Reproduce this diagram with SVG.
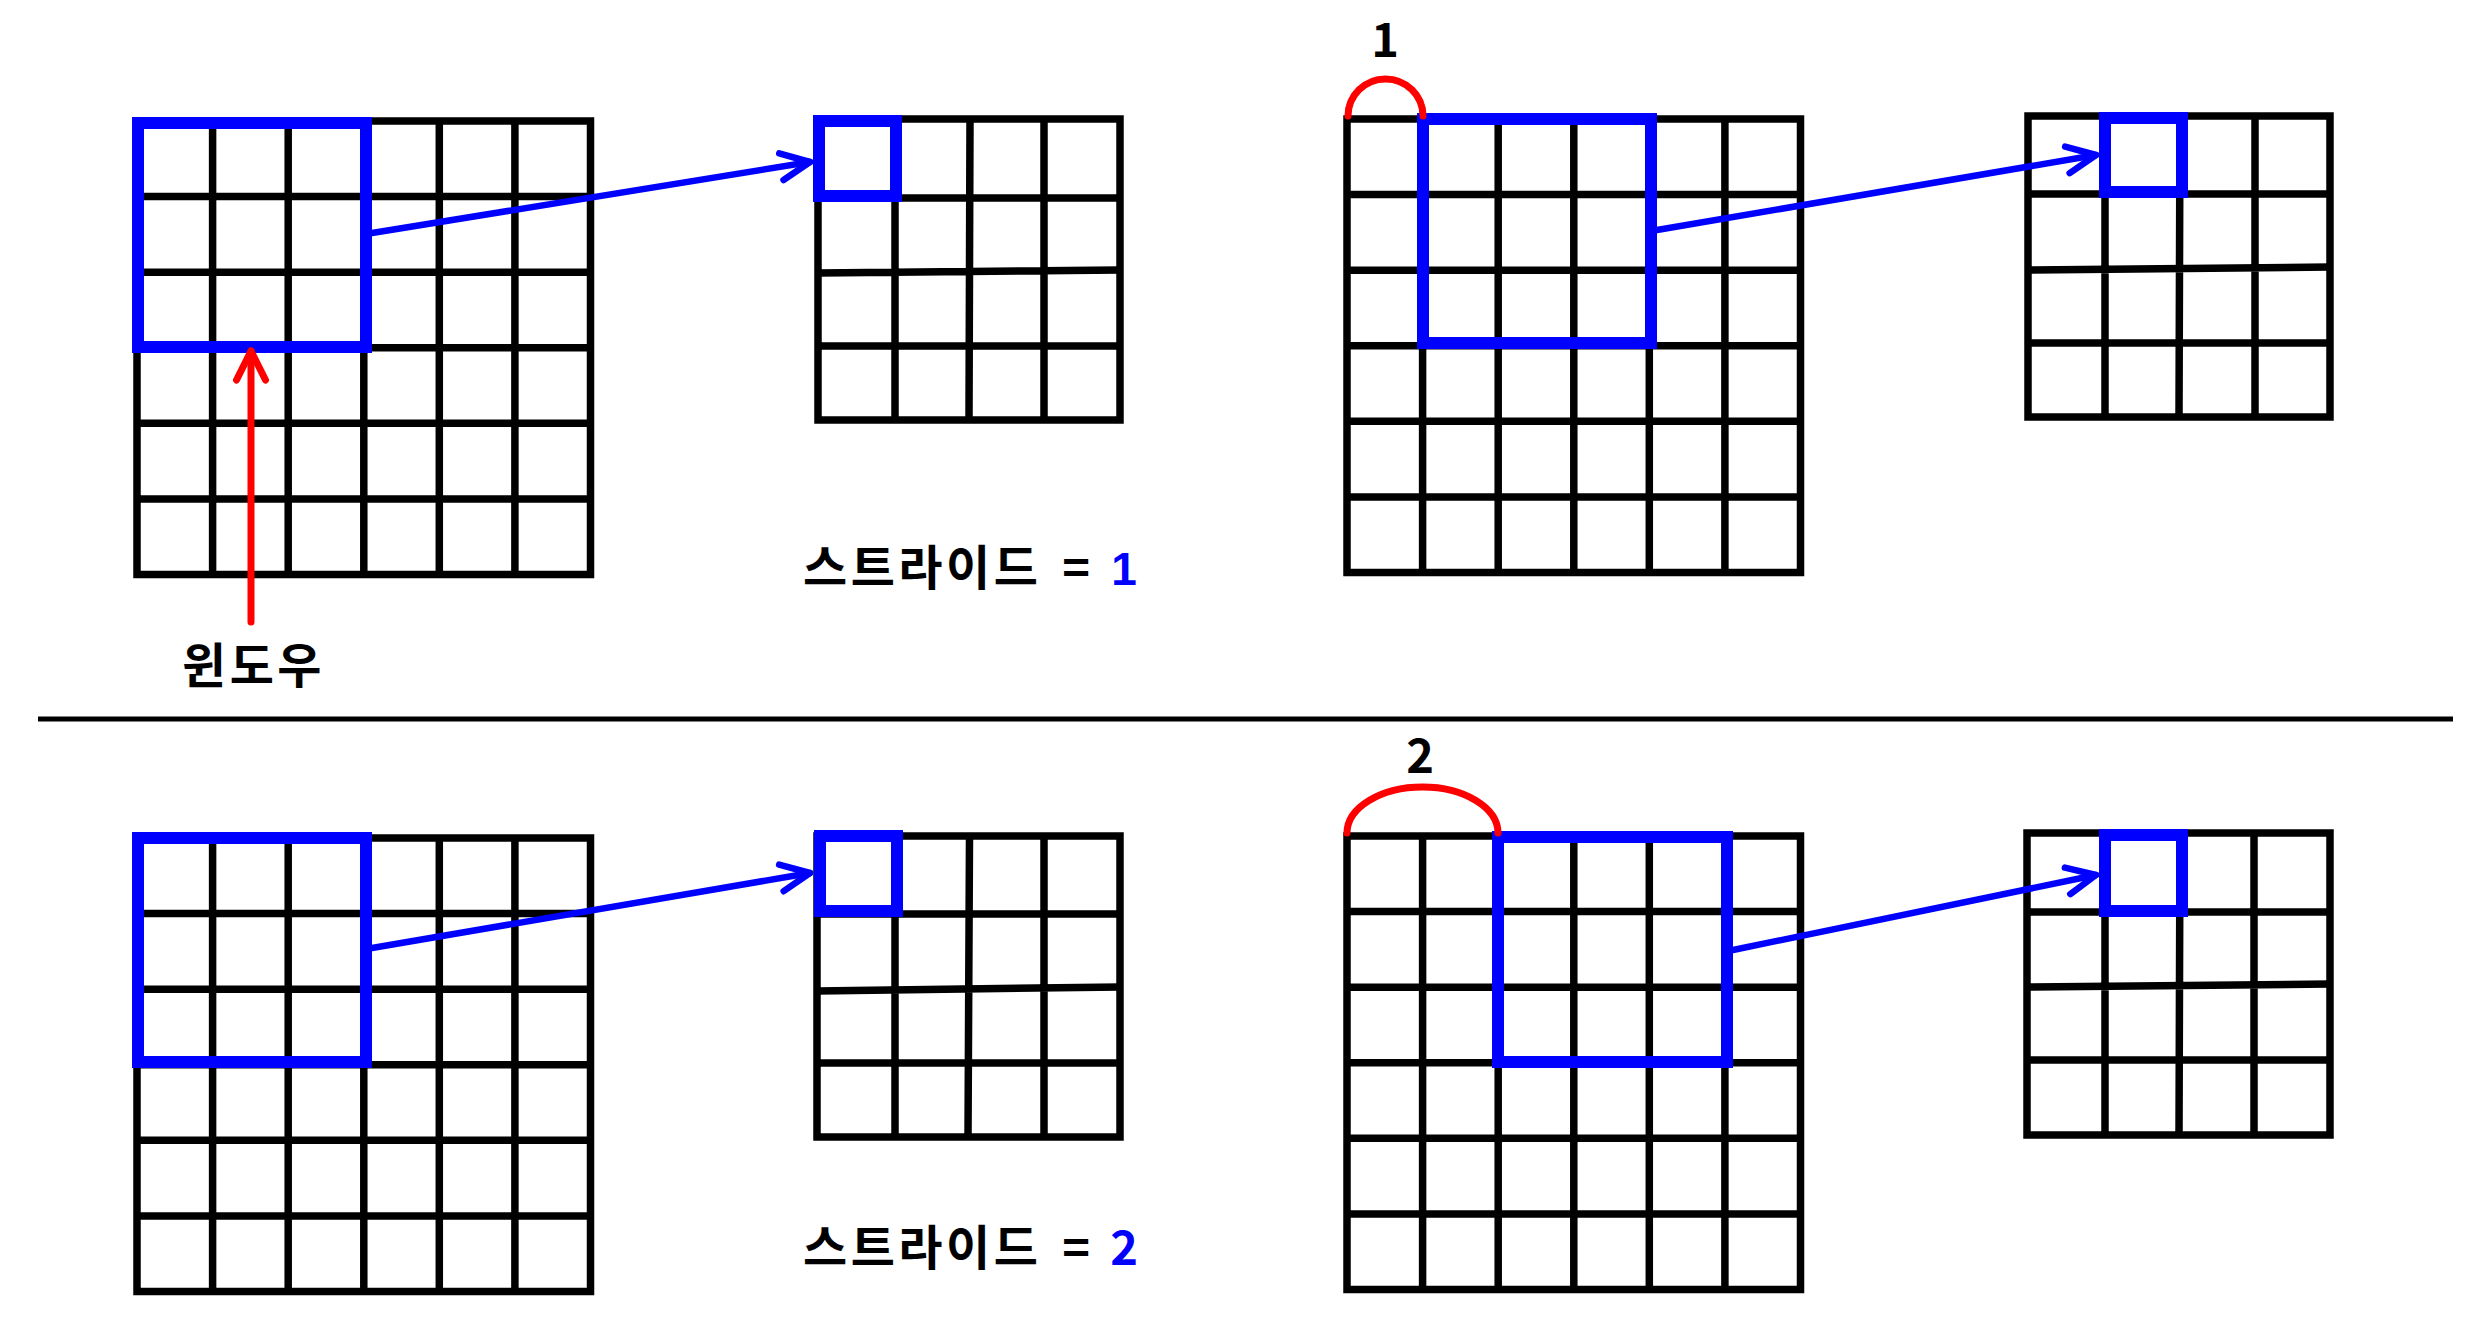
<svg xmlns="http://www.w3.org/2000/svg" xmlns:xlink="http://www.w3.org/1999/xlink" width="2466" height="1330" viewBox="0 0 2466 1330">
<style>
.grid{fill:none;stroke:#000;stroke-width:7.5}
.win{fill:none;stroke:#0000ff;stroke-width:12}
.conn{fill:none;stroke:#0000ff;stroke-width:6.5;stroke-linecap:round}
.red{fill:none;stroke:#ff0000;stroke-width:7;stroke-linecap:round}
.lbl{font-family:"Noto Sans CJK KR","Noto Sans",sans-serif;font-weight:bold;font-size:47px;fill:#000}
.kr{font-size:48px;letter-spacing:3.5px}
.num{font-family:"Liberation Sans","Noto Sans CJK KR",sans-serif;font-weight:bold;font-size:46px}
</style>
<defs>
<marker id="ab" markerUnits="userSpaceOnUse" viewBox="-40 -20 50 40" refX="0" refY="0" markerWidth="50" markerHeight="40" orient="auto" overflow="visible">
<path d="M-29 -13.5 L0 0 L-29 13.5" fill="none" stroke="#0000ff" stroke-width="6.5" stroke-linecap="round" stroke-linejoin="round"/>
</marker>
<marker id="ar" markerUnits="userSpaceOnUse" viewBox="-40 -20 50 40" refX="0" refY="0" markerWidth="50" markerHeight="40" orient="auto" overflow="visible">
<path d="M-29 -14.5 L0 0 L-29 14.5" fill="none" stroke="#ff0000" stroke-width="7" stroke-linecap="round" stroke-linejoin="round"/>
</marker>
<g id="g6">
<rect x="0" y="0" width="453.5" height="453.5"/>
<path d="M75.6 0V453.5M151.2 0V453.5M226.8 0V453.5M302.3 0V453.5M377.9 0V453.5M0 75.6H453.5M0 151.2H453.5M0 226.8H453.5M0 302.3H453.5M0 377.9H453.5"/>
</g>
</defs>
<rect width="2466" height="1330" fill="#fff"/>

<g id="input-s1">
<use xlink:href="#g6" class="grid" transform="translate(137,121)"/>
<rect class="win" x="138" y="123" width="228" height="224"/>
</g>
<g id="output-s1">
<rect class="grid" x="818" y="119" width="302" height="301"/>
<path class="grid" d="M895 119V420M970 119L969 420M1044 119V420M818 198H1120M818 273L1120 270M818 346H1120"/>
<rect class="win" x="819" y="121" width="77" height="75"/>
</g>
<g id="input-s1b">
<use xlink:href="#g6" class="grid" transform="translate(1347,119)"/>
<rect class="win" x="1423" y="119" width="228" height="224"/>
</g>
<g id="output-s1b">
<rect class="grid" x="2028" y="116" width="302" height="301"/>
<path class="grid" d="M2105 116V417M2180 116L2179 417M2255 116V417M2028 194H2330M2028 270L2330 267M2028 343H2330"/>
<rect class="win" x="2105" y="118" width="77" height="74"/>
</g>

<g id="input-s2">
<use xlink:href="#g6" class="grid" transform="translate(137,838)"/>
<rect class="win" x="138" y="838" width="228" height="224"/>
</g>
<g id="output-s2">
<rect class="grid" x="817" y="836" width="303" height="301"/>
<path class="grid" d="M895 836V1137M969.5 836L968 1137M1044 836V1137M817 914H1120M817 991L1120 987M817 1063H1120"/>
<rect class="win" x="820" y="836" width="77" height="75"/>
</g>
<g id="input-s2b">
<use xlink:href="#g6" class="grid" transform="translate(1347,836)"/>
<rect class="win" x="1498" y="837" width="229" height="225"/>
</g>
<g id="output-s2b">
<rect class="grid" x="2027" y="833" width="303" height="302"/>
<path class="grid" d="M2105 833V1135M2180 833L2179 1135M2254 833V1135M2027 912H2330M2027 987L2330 984M2027 1060H2330"/>
<rect class="win" x="2105" y="835" width="77" height="76"/>
</g>

<g id="connectors">
<line class="conn" x1="372" y1="233" x2="810" y2="162" marker-end="url(#ab)"/>
<line class="conn" x1="1657" y1="230" x2="2096" y2="155" marker-end="url(#ab)"/>
<line class="conn" x1="372" y1="948" x2="810" y2="873" marker-end="url(#ab)"/>
<line class="conn" x1="1733" y1="950" x2="2096" y2="875" marker-end="url(#ab)"/>
<line class="red" x1="251" y1="622" x2="251" y2="351" marker-end="url(#ar)"/>
<path class="red" d="M1348 116 A37.5 37 0 0 1 1423 116"/>
<path class="red" d="M1347 833 A75.5 46 0 0 1 1498 833"/>
</g>

<line id="separator" x1="38" y1="719" x2="2453" y2="719" stroke="#000" stroke-width="5"/>

<g id="labels">
<text class="lbl kr" x="182" y="683">윈도우</text>
<text class="lbl kr" x="803" y="585">스트라이드</text>
<text class="lbl" x="1076" y="585" text-anchor="middle">=</text>
<text class="lbl num" x="1124" y="585" text-anchor="middle" style="fill:#0000ff">1</text>
<text class="lbl kr" x="803" y="1265">스트라이드</text>
<text class="lbl" x="1076" y="1265" text-anchor="middle">=</text>
<text class="lbl" x="1124" y="1265" text-anchor="middle" style="fill:#0000ff">2</text>
<text class="lbl" x="1385" y="57" text-anchor="middle">1</text>
<text class="lbl" x="1420" y="773" text-anchor="middle">2</text>
</g>
</svg>
